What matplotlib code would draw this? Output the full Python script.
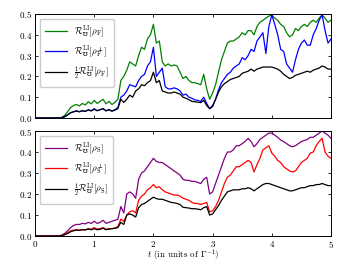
import numpy as np
import matplotlib
matplotlib.use("Agg")
import matplotlib.pyplot as plt

t = np.linspace(0, 5, 101)

# top panel
green_F = [0, 0, 0, 0, 0, 0, 0, 0, 0, 0.003,
           0.012, 0.03, 0.05, 0.06, 0.065, 0.058, 0.07, 0.063, 0.078, 0.068,
           0.085, 0.07, 0.08, 0.09, 0.068, 0.08, 0.065, 0.075, 0.09, 0.18,
           0.20, 0.23, 0.27, 0.26, 0.25, 0.30, 0.34, 0.33, 0.38, 0.40,
           0.45, 0.36, 0.37, 0.27, 0.25, 0.26, 0.25, 0.255, 0.25, 0.22,
           0.19, 0.20, 0.18, 0.17, 0.17, 0.165, 0.16, 0.21, 0.14, 0.09,
           0.12, 0.16, 0.22, 0.28, 0.32, 0.36, 0.37, 0.37, 0.38, 0.39,
           0.41, 0.40, 0.42, 0.42, 0.40, 0.44, 0.46, 0.47, 0.48, 0.49,
           0.495, 0.48, 0.47, 0.45, 0.44, 0.41, 0.39, 0.40, 0.43, 0.42,
           0.44, 0.45, 0.44, 0.46, 0.47, 0.46, 0.48, 0.495, 0.48, 0.46,
           0.47]
blue_Fperp = [0, 0, 0, 0, 0, 0, 0, 0, 0, 0.001,
              0.006, 0.015, 0.025, 0.03, 0.035, 0.03, 0.035, 0.032, 0.04, 0.035,
              0.045, 0.035, 0.04, 0.045, 0.035, 0.04, 0.033, 0.04, 0.05, 0.10,
              0.11, 0.13, 0.16, 0.155, 0.15, 0.18, 0.20, 0.21, 0.25, 0.27,
              0.34, 0.20, 0.22, 0.24, 0.15, 0.14, 0.14, 0.145, 0.14, 0.13,
              0.11, 0.115, 0.10, 0.095, 0.087, 0.085, 0.08, 0.10, 0.07, 0.045,
              0.06, 0.09, 0.135, 0.17, 0.19, 0.21, 0.22, 0.24, 0.25, 0.26,
              0.29, 0.28, 0.30, 0.33, 0.32, 0.37, 0.39, 0.41, 0.31, 0.44,
              0.495, 0.45, 0.40, 0.33, 0.32, 0.26, 0.24, 0.22, 0.28, 0.33,
              0.36, 0.375, 0.35, 0.35, 0.40, 0.43, 0.47, 0.495, 0.42, 0.36,
              0.38]
half_F = [0, 0, 0, 0, 0, 0, 0, 0, 0, 0.001,
          0.006, 0.015, 0.025, 0.03, 0.033, 0.03, 0.035, 0.032, 0.038, 0.034,
          0.042, 0.035, 0.04, 0.045, 0.034, 0.04, 0.033, 0.038, 0.045, 0.09,
          0.075, 0.09, 0.11, 0.10, 0.13, 0.14, 0.16, 0.155, 0.17, 0.18,
          0.22, 0.17, 0.18, 0.13, 0.125, 0.12, 0.12, 0.125, 0.12, 0.115,
          0.10, 0.095, 0.088, 0.08, 0.078, 0.076, 0.074, 0.085, 0.06, 0.045,
          0.055, 0.09, 0.125, 0.15, 0.165, 0.175, 0.185, 0.19, 0.195, 0.20,
          0.215, 0.22, 0.225, 0.235, 0.225, 0.235, 0.24, 0.245, 0.245, 0.245,
          0.245, 0.24, 0.235, 0.225, 0.21, 0.20, 0.19, 0.195, 0.205, 0.21,
          0.215, 0.22, 0.225, 0.22, 0.23, 0.235, 0.24, 0.25, 0.245, 0.235,
          0.235]

# bottom panel
purple_S = [0, 0, 0, 0, 0, 0, 0, 0, 0, 0.004,
            0.012, 0.025, 0.04, 0.05, 0.055, 0.055, 0.06, 0.058, 0.065, 0.06,
            0.07, 0.06, 0.065, 0.075, 0.06, 0.065, 0.07, 0.075, 0.08, 0.14,
            0.11, 0.20, 0.21, 0.20, 0.18, 0.27, 0.30, 0.31, 0.33, 0.35,
            0.37, 0.355, 0.35, 0.35, 0.34, 0.33, 0.32, 0.31, 0.30, 0.29,
            0.27, 0.265, 0.265, 0.26, 0.26, 0.255, 0.25, 0.27, 0.28, 0.20,
            0.21, 0.25, 0.29, 0.33, 0.37, 0.40, 0.40, 0.41, 0.43, 0.43,
            0.44, 0.45, 0.465, 0.45, 0.425, 0.44, 0.46, 0.47, 0.48, 0.49,
            0.49, 0.48, 0.47, 0.457, 0.45, 0.44, 0.43, 0.425, 0.43, 0.44,
            0.45, 0.455, 0.46, 0.47, 0.47, 0.48, 0.49, 0.50, 0.49, 0.48,
            0.465]
red_Sperp = [0, 0, 0, 0, 0, 0, 0, 0, 0, 0.002,
             0.008, 0.015, 0.025, 0.028, 0.03, 0.028, 0.03, 0.03, 0.035, 0.032,
             0.04, 0.033, 0.035, 0.04, 0.032, 0.035, 0.035, 0.038, 0.045, 0.08,
             0.07, 0.10, 0.115, 0.12, 0.11, 0.17, 0.19, 0.20, 0.22, 0.23,
             0.245, 0.23, 0.235, 0.22, 0.21, 0.205, 0.20, 0.195, 0.195, 0.19,
             0.18, 0.175, 0.17, 0.16, 0.155, 0.155, 0.15, 0.155, 0.16, 0.115,
             0.12, 0.14, 0.17, 0.21, 0.25, 0.28, 0.29, 0.31, 0.33, 0.33,
             0.34, 0.35, 0.36, 0.35, 0.305, 0.34, 0.37, 0.41, 0.42, 0.43,
             0.395, 0.38, 0.36, 0.35, 0.33, 0.32, 0.31, 0.305, 0.31, 0.33,
             0.35, 0.36, 0.37, 0.395, 0.40, 0.43, 0.45, 0.465, 0.40, 0.38,
             0.37]
half_S = [0, 0, 0, 0, 0, 0, 0, 0, 0, 0.002,
          0.006, 0.012, 0.02, 0.025, 0.028, 0.027, 0.03, 0.029, 0.033, 0.03,
          0.035, 0.03, 0.032, 0.037, 0.03, 0.033, 0.035, 0.037, 0.04, 0.065,
          0.055, 0.10, 0.105, 0.10, 0.09, 0.135, 0.15, 0.155, 0.165, 0.175,
          0.185, 0.178, 0.175, 0.175, 0.17, 0.165, 0.16, 0.158, 0.155, 0.15,
          0.137, 0.135, 0.133, 0.13, 0.13, 0.128, 0.125, 0.135, 0.14, 0.10,
          0.105, 0.125, 0.145, 0.17, 0.19, 0.21, 0.215, 0.22, 0.22, 0.22,
          0.225, 0.225, 0.23, 0.225, 0.215, 0.225, 0.235, 0.245, 0.25, 0.25,
          0.245, 0.24, 0.235, 0.23, 0.225, 0.22, 0.215, 0.215, 0.22, 0.225,
          0.23, 0.23, 0.235, 0.24, 0.24, 0.245, 0.245, 0.25, 0.245, 0.24,
          0.24]

plt.rcParams['mathtext.fontset'] = 'cm'
plt.rcParams['font.family'] = 'serif'
plt.rcParams['font.serif'] = ['cmr10', 'DejaVu Serif']
plt.rcParams['axes.formatter.use_mathtext'] = True
plt.rcParams['font.size'] = 6.5

fig = plt.figure(figsize=(3.49, 2.62), dpi=100)
ax1 = fig.add_axes([0.1003, 0.5496, 0.8481, 0.397])
ax2 = fig.add_axes([0.1003, 0.0992, 0.8481, 0.4008])

R = r'\mathcal{R}^{\rm LI}_{\mho}'
ax1.plot(t, green_F, color='green', lw=0.9, label=r'$' + R + r'[\rho_{\rm F}]$')
ax1.plot(t, blue_Fperp, color='blue', lw=0.9, label=r'$' + R + r'[\rho_{\rm F}^{\perp}]$')
ax1.plot(t, half_F, color='black', lw=0.9, label=r'$\frac{1}{2}' + R + r'[\rho_{\rm F}]$')

ax2.plot(t, purple_S, color='purple', lw=0.9, label=r'$' + R + r'[\rho_{\rm S}]$')
ax2.plot(t, red_Sperp, color='red', lw=0.9, label=r'$' + R + r'[\rho_{\rm S}^{\perp}]$')
ax2.plot(t, half_S, color='black', lw=0.9, label=r'$\frac{1}{2}' + R + r'[\rho_{\rm S}]$')

for ax in (ax1, ax2):
    ax.set_xlim(0, 5)
    ax.set_ylim(0, 0.5)
    ax.set_yticks([0.0, 0.1, 0.2, 0.3, 0.4, 0.5])
    ax.set_xticks([0, 1, 2, 3, 4, 5])
    ax.tick_params(direction='in', top=True, right=True, length=2.5, width=0.6, pad=2)
    for s in ax.spines.values():
        s.set_linewidth(0.7)
    ax.legend(loc='upper left', fontsize=6.5, handlelength=2.4, borderpad=0.6,
              labelspacing=0.55, handletextpad=0.8, edgecolor='0.8', framealpha=1)

ax1.set_xticklabels([])
ax2.set_xlabel(r'$t$ (in units of $\Gamma^{-1}$)')
ax2.xaxis.set_label_coords(0.5, -0.115)

fig.savefig('out.png', dpi=100)
